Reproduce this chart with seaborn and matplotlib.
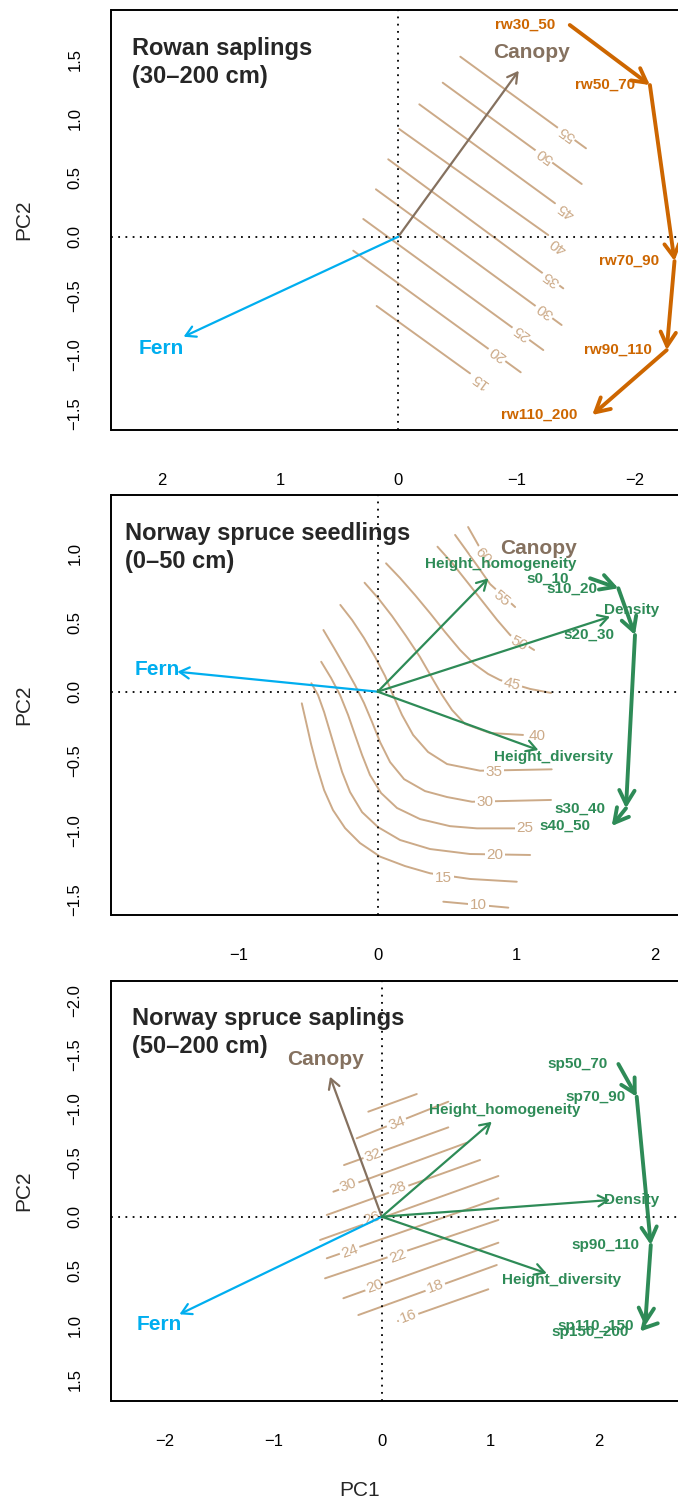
import numpy as np
import matplotlib
matplotlib.use("Agg")
import matplotlib.pyplot as plt
import seaborn as sns

sns.set_style("white")
plt.rcParams["font.family"] = ["Liberation Sans", "DejaVu Sans"]

# ------------------------------------------------------------------ data
# Panel 1 : Rowan saplings
rw_labels = ["rw30_50", "rw50_70", "rw70_90", "rw90_110", "rw110_200"]
rw_x = [-1.451, -2.129, -2.337, -2.271, -1.641]
rw_y = [1.791, 1.283, -0.206, -0.959, -1.508]
a_vec_names = ["Canopy", "Fern"]
a_vec_x = [-1.019, 1.816]
a_vec_y = [1.404, -0.846]
a_levels = [55, 50, 45, 40, 35, 30, 25, 20, 15]
a_c_x0 = [-0.525, -0.376, -0.178, -0.008, 0.085, 0.189, 0.296, 0.381, 0.183]
a_c_y0 = [1.523, 1.303, 1.120, 0.911, 0.655, 0.401, 0.150, -0.118, -0.586]
a_c_x1 = [-1.588, -1.552, -1.326, -1.269, -1.396, -1.382, -1.227, -1.036, -0.607]
a_c_y1 = [0.748, 0.446, 0.283, 0.014, -0.437, -0.747, -0.959, -1.147, -1.156]
a_lab_x = [-1.425, -1.241, -1.425, -1.354, -1.298, -1.241, -1.044, -0.846, -0.691]
a_lab_y = [0.875, 0.691, 0.226, -0.070, -0.352, -0.626, -0.812, -0.986, -1.212]
a_xticks = [2, 1, 0, -1, -2]
a_yticks = [-1.5, -1.0, -0.5, 0.0, 0.5, 1.0, 1.5]

# Panel 2 : Norway spruce seedlings
s_labels = ["s0_10", "s10_20", "s20_30", "s30_40", "s40_50"]
s_x = [1.532, 1.736, 1.856, 1.791, 1.688]
s_y = [0.818, 0.746, 0.409, -0.841, -0.969]
b_vec_names = ["Fern", "Height_homogeneity", "Density", "Height_diversity"]
b_vec_x = [-1.446, 0.798, 1.676, 1.159]
b_vec_y = [0.144, 0.818, 0.541, -0.421]
b_canopy_xy = (1.159, 1.035)
b_levels = [60, 55, 50, 45, 40, 35, 30, 25, 20, 15, 10]
b_c60_x = [0.652, 0.709, 0.810]
b_c60_y = [1.188, 1.087, 0.907]
b_c55_x = [0.558, 0.637, 0.724, 0.810, 0.991]
b_c55_y = [1.131, 1.022, 0.900, 0.777, 0.611]
b_c50_x = [0.431, 0.536, 0.645, 0.753, 0.861, 0.955, 1.128]
b_c50_y = [1.046, 0.929, 0.792, 0.655, 0.518, 0.409, 0.301]
b_c45_x = [0.060, 0.161, 0.269, 0.377, 0.486, 0.594, 0.695, 0.796, 0.882, 1.099, 1.250]
b_c45_y = [0.926, 0.820, 0.697, 0.567, 0.430, 0.301, 0.200, 0.128, 0.084, 0.020, -0.009]
b_c40_x = [-0.095, 0.002, 0.103, 0.204, 0.305, 0.392, 0.464, 0.536, 0.630, 0.810, 1.048]
b_c40_y = [0.786, 0.676, 0.546, 0.402, 0.250, 0.099, -0.024, -0.132, -0.233, -0.298, -0.312]
b_c35_x = [-0.270, -0.185, -0.099, -0.019, 0.053, 0.110, 0.175, 0.255, 0.363, 0.500,
           0.738, 1.255]
b_c35_y = [0.626, 0.517, 0.387, 0.250, 0.113, -0.024, -0.168, -0.312, -0.435, -0.522,
           -0.570, -0.560]
b_c30_x = [-0.392, -0.315, -0.236, -0.164, -0.099, -0.041, 0.017, 0.089, 0.190, 0.341,
           0.500, 0.680, 1.250]
b_c30_y = [0.445, 0.315, 0.178, 0.048, -0.082, -0.219, -0.364, -0.508, -0.631, -0.717,
           -0.760, -0.794, -0.781]
b_c25_x = [-0.408, -0.337, -0.272, -0.214, -0.164, -0.113, -0.056, 0.024, 0.139, 0.305,
           0.521, 0.716, 1.005]
b_c25_y = [0.216, 0.099, -0.024, -0.168, -0.312, -0.457, -0.601, -0.731, -0.839, -0.919,
           -0.970, -0.986, -0.986]
b_c20_x = [-0.479, -0.431, -0.387, -0.344, -0.301, -0.257, -0.200, -0.113, 0.002, 0.161,
           0.377, 0.666, 1.099]
b_c20_y = [0.061, -0.024, -0.147, -0.291, -0.436, -0.580, -0.724, -0.869, -0.977, -1.070,
           -1.135, -1.171, -1.178]
b_c15_x = [-0.548, -0.517, -0.481, -0.438, -0.387, -0.323, -0.236, -0.128, 0.017, 0.197,
           0.377, 0.666, 1.003]
b_c15_y = [-0.084, -0.219, -0.378, -0.544, -0.710, -0.854, -0.984, -1.092, -1.190, -1.258,
           -1.310, -1.351, -1.371]
b_c10_x = [0.473, 0.942]
b_c10_y = [-1.515, -1.558]
b_lab_x = [0.760, 0.895, 1.018, 0.969, 1.147, 0.839, 0.774, 1.063, 0.846, 0.473, 0.726]
b_lab_y = [0.979, 0.674, 0.349, 0.056, -0.317, -0.577, -0.794, -0.986, -1.178, -1.346, -1.539]
b_xticks = [-1, 0, 1, 2]
b_yticks = [-1.5, -1.0, -0.5, 0.0, 0.5, 1.0]

# Panel 3 : Norway spruce saplings
sp_labels = ["sp50_70", "sp70_90", "sp90_110", "sp110_150", "sp150_200"]
sp_x = [2.183, 2.352, 2.482, 2.429, 2.383]
sp_y = [-1.410, -1.108, 0.261, 1.009, 1.060]
c_vec_names = ["Canopy", "Fern", "Height_homogeneity", "Density", "Height_diversity"]
c_vec_x = [-0.477, -1.866, 1.015, 2.106, 1.522]
c_vec_y = [-1.293, 0.901, -0.877, -0.154, 0.523]
c_levels = [36, 34, 32, 30, 28, 26, 24, 22, 20, 18, 16]
c_c_x0 = [-0.124, -0.231, -0.348, -0.446, -0.507, -0.569, -0.507, -0.523, -0.354, -0.216, 0.150]
c_c_y0 = [-0.970, -0.724, -0.477, -0.231, -0.016, 0.215, 0.384, 0.569, 0.753, 0.908, 0.963]
c_c_x1 = [0.323, 0.614, 0.614, 0.784, 0.907, 1.076, 1.076, 1.076, 1.076, 1.061, 0.983]
c_c_y1 = [-1.133, -1.062, -0.825, -0.683, -0.524, -0.376, -0.170, 0.030, 0.240, 0.446, 0.670]
c_lab_x = [None, 0.138, -0.077, -0.308, 0.153, -0.092, -0.292, 0.153, -0.062, 0.492, 0.245]
c_lab_y = [None, -0.862, -0.570, -0.293, -0.262, 0.015, 0.323, 0.369, 0.646, 0.646, 0.923]
c_xticks = [-2, -1, 0, 1, 2]
c_yticks = [-2.0, -1.5, -1.0, -0.5, 0.0, 0.5, 1.0, 1.5]

# ------------------------------------------------------------------ style
W, H = 678, 1502
C_CONT = "#CCAA88"
C_CAN = "#85715F"
C_FERN = "#00AEEF"
C_ORANGE = "#CD6600"
C_GREEN = "#2E8B57"
PX = 0.72  # points per pixel at dpi 100

fig = plt.figure(figsize=(W / 100, H / 100), dpi=100)


def make_axes(top, bottom, xlim, ylim, xticks, yticks, xpad):
    ax = fig.add_axes([111.5 / W, 1 - bottom / H, 600 / W, (bottom - top) / H])
    ax.set_xlim(*xlim)
    ax.set_ylim(*ylim)
    ax.set_xticks(xticks)
    ax.set_xticklabels([f"{v:d}".replace("-", "\u2212") for v in xticks])
    ax.set_yticks(yticks)
    ax.set_yticklabels([f"{v:.1f}".replace("-", "\u2212") for v in yticks])
    for s in ax.spines.values():
        s.set_linewidth(1.4)
        s.set_color("black")
    ax.tick_params(axis="both", direction="out", length=9, width=1.1,
                   labelsize=12, colors="black")
    ax.tick_params(axis="x", pad=xpad)
    ax.tick_params(axis="y", pad=12)
    for t in ax.get_yticklabels():
        t.set_rotation(90)
        t.set_va("center")
        t.set_ha("right")
    ax.axhline(0, color="black", lw=1.3, ls=(0, (1, 3)), zorder=3)
    ax.axvline(0, color="black", lw=1.3, ls=(0, (1, 3)), zorder=3)
    ax.set_xlabel("")
    ax.set_ylabel("")
    return ax


def arrow(ax, x0, y0, x1, y1, color, lw, hl, hw, z=4):
    ax.annotate("", xy=(x1, y1), xytext=(x0, y0),
                arrowprops=dict(arrowstyle=f"->,head_length={hl},head_width={hw}",
                                color=color, lw=lw, shrinkA=0, shrinkB=0,
                                mutation_scale=10, capstyle="round",
                                joinstyle="round"),
                zorder=z)


def vec_label(ax, name, x, y, dx, dy, color, size):
    ax.annotate(name, xy=(x, y), xytext=(dx * PX, dy * PX), textcoords="offset points",
                ha="center", va="center", fontsize=size, fontweight="bold",
                color=color, zorder=6)


def traj(ax, xs, ys, labels, color, off):
    for i in range(len(xs) - 1):
        arrow(ax, xs[i], ys[i], xs[i + 1], ys[i + 1], color, 2.8, 1.0, 0.55, z=5)
    for lbl, x, y in zip(labels, xs, ys):
        ax.annotate(lbl, xy=(x, y), xytext=(-off * PX, 0), textcoords="offset points",
                    ha="right", va="center", fontsize=11, fontweight="bold",
                    color=color, zorder=6)


def contour_line(ax, xs, ys):
    sns.lineplot(x=xs, y=ys, sort=False, estimator=None, color=C_CONT, lw=1.4,
                 ax=ax, zorder=1)


def contour_label(ax, lvl, x, y, rot):
    ax.text(x, y, str(lvl), rotation=rot, rotation_mode="anchor", ha="center",
            va="center", fontsize=11, color=C_CONT, zorder=2,
            bbox=dict(boxstyle="square,pad=0.12", fc="white", ec="none"))


# ------------------------------------------------------------------ panel 1
ax1 = make_axes(10, 429.5, (2.426, -2.650), (-1.631, 1.918), a_xticks, a_yticks, 22)
for lvl, x0, y0, x1, y1, lx, ly in zip(a_levels, a_c_x0, a_c_y0, a_c_x1, a_c_y1,
                                       a_lab_x, a_lab_y):
    contour_line(ax1, [x0, x1], [y0, y1])
    contour_label(ax1, lvl, lx, ly, 144)
arrow(ax1, 0, 0, a_vec_x[0], a_vec_y[0], C_CAN, 1.6, 0.7, 0.4)
arrow(ax1, 0, 0, a_vec_x[1], a_vec_y[1], C_FERN, 1.6, 0.7, 0.4)
vec_label(ax1, "Canopy", a_vec_x[0], a_vec_y[0], 13, 18, C_CAN, 15)
vec_label(ax1, "Fern", a_vec_x[1], a_vec_y[1], -22, -12, C_FERN, 15)
traj(ax1, rw_x, rw_y, rw_labels, C_ORANGE, 15)

# ------------------------------------------------------------------ panel 2
ax2 = make_axes(495, 915, (-1.921, 2.408), (-1.611, 1.419), b_xticks, b_yticks, 15)
b_cx = [b_c60_x, b_c55_x, b_c50_x, b_c45_x, b_c40_x, b_c35_x, b_c30_x, b_c25_x,
        b_c20_x, b_c15_x, b_c10_x]
b_cy = [b_c60_y, b_c55_y, b_c50_y, b_c45_y, b_c40_y, b_c35_y, b_c30_y, b_c25_y,
        b_c20_y, b_c15_y, b_c10_y]
b_rot = [-50, -40, -28, -14, 0, 0, 0, 0, 0, 0, 0]
for lvl, xs, ys, lx, ly, r in zip(b_levels, b_cx, b_cy, b_lab_x, b_lab_y, b_rot):
    contour_line(ax2, xs, ys)
    contour_label(ax2, lvl, lx, ly, r)
b_cols = [C_FERN, C_GREEN, C_GREEN, C_GREEN]
b_off = [(-20, 2), (12, 14), (22, 7), (15, -7)]
b_size = [15, 11, 11, 11]
for nm, x, y, c, o, sz in zip(b_vec_names, b_vec_x, b_vec_y, b_cols, b_off, b_size):
    arrow(ax2, 0, 0, x, y, c, 1.6, 0.7, 0.4)
    vec_label(ax2, nm, x, y, o[0], o[1], c, sz)
vec_label(ax2, "Canopy", b_canopy_xy[0], b_canopy_xy[1], 0, 0, C_CAN, 15)
traj(ax2, s_x, s_y, s_labels, C_GREEN, 21)

# ------------------------------------------------------------------ panel 3
ax3 = make_axes(981.4, 1400.7, (-2.493, 3.042), (1.699, -2.173), c_xticks, c_yticks, 15)
for lvl, x0, y0, x1, y1, lx, ly in zip(c_levels, c_c_x0, c_c_y0, c_c_x1, c_c_y1,
                                       c_lab_x, c_lab_y):
    contour_line(ax3, [x0, x1], [y0, y1])
    if lx is not None:
        contour_label(ax3, lvl, lx, ly, 20)
c_cols = [C_CAN, C_FERN, C_GREEN, C_GREEN, C_GREEN]
c_off = [(-5, 17), (-20, -10), (13, 12), (22, 0), (15, -7)]
c_size = [15, 15, 11, 11, 11]
for nm, x, y, c, o, sz in zip(c_vec_names, c_vec_x, c_vec_y, c_cols, c_off, c_size):
    arrow(ax3, 0, 0, x, y, c, 1.6, 0.7, 0.4)
    vec_label(ax3, nm, x, y, o[0], o[1], c, sz)
traj(ax3, sp_x, sp_y, sp_labels, C_GREEN, 11)

# ------------------------------------------------------------------ titles / axis names
titles = [("Rowan saplings", "(30\u2013200 cm)", 132, 48.3),
          ("Norway spruce seedlings", "(0\u201350 cm)", 125.4, 533.3),
          ("Norway spruce saplings", "(50\u2013200 cm)", 132, 1019.0)]
for l1, l2, x, y in titles:
    fig.text(x / W, 1 - y / H, l1, fontsize=17, fontweight="bold", ha="left", va="center")
    fig.text(x / W, 1 - (y + 27.8) / H, l2, fontsize=17, fontweight="bold", ha="left",
             va="center")
for yc in [219.7, 705, 1191]:
    fig.text(24 / W, 1 - yc / H, "PC2", fontsize=15, rotation=90, ha="center", va="center")
fig.text(360 / W, 1 - 1490 / H, "PC1", fontsize=15, ha="center", va="center")

fig.savefig("out.png", dpi=100)
